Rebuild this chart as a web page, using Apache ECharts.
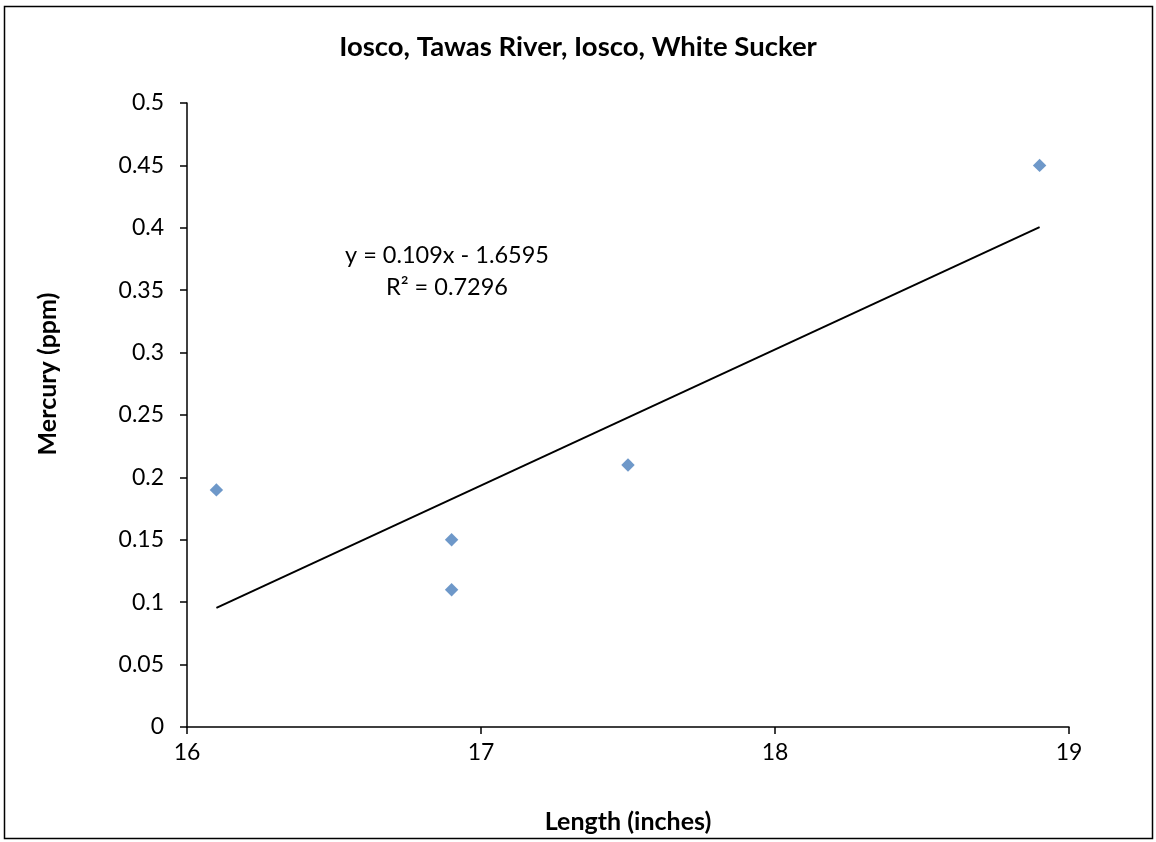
<!DOCTYPE html>
<html>
<head>
<meta charset="utf-8">
<script src="https://cdn.jsdelivr.net/npm/echarts@6/dist/echarts.min.js"></script>
<style>
  html, body { margin: 0; padding: 0; background: #fff; }
  #chart { width: 1156px; height: 842px; }
</style>
</head>
<body>
<div id="chart"></div>
<script>
// fish length (inches) vs mercury (ppm)
const lengths = [16.1, 16.9, 16.9, 17.5, 18.9]
const mercury = [0.19, 0.15, 0.11, 0.21, 0.45]
// linear trendline shown on the chart
const trendSlope = 0.109
const trendIntercept = -1.6595
const trendR2 = 0.7296
const xTicks = [16, 17, 18, 19]
const yTicks = [0, 0.05, 0.1, 0.15, 0.2, 0.25, 0.3, 0.35, 0.4, 0.45, 0.5]

const font = 'Lato, "Open Sans", sans-serif'
const points = lengths.map((x, i) => [x, mercury[i]])
const xMin = Math.min(...lengths)
const xMax = Math.max(...lengths)
const trend = [xMin, xMax].map(x => [x, trendSlope * x + trendIntercept])

let myChart = echarts.init(document.getElementById('chart'))
myChart.setOption({
  animation: false,
  title: {
    text: 'Iosco, Tawas River, Iosco, White Sucker',
    left: 'center',
    top: 28,
    textStyle: { fontFamily: font, fontSize: 27.5, fontWeight: 'bold', color: '#000' }
  },
  grid: {
    left: 187,
    right: 87,
    top: 103,
    bottom: 115
  },
  xAxis: {
    type: 'value',
    min: xTicks[0],
    max: xTicks[xTicks.length - 1],
    interval: 1,
    name: 'Length (inches)',
    nameLocation: 'middle',
    nameGap: 82,
    nameTextStyle: { fontFamily: font, fontSize: 25, fontWeight: 'bold', color: '#000' },
    axisLine: { show: true, lineStyle: { color: '#000', width: 1.5 } },
    axisTick: { show: true, inside: false, length: 7, lineStyle: { color: '#000', width: 1.5 } },
    axisLabel: { fontFamily: font, fontSize: 23, color: '#000', margin: 14 },
    splitLine: { show: false }
  },
  yAxis: {
    type: 'value',
    min: yTicks[0],
    max: yTicks[yTicks.length - 1],
    interval: 0.05,
    axisLine: { show: true, lineStyle: { color: '#000', width: 1.5 } },
    axisTick: { show: true, inside: false, length: 7, lineStyle: { color: '#000', width: 1.5 } },
    axisLabel: {
      fontFamily: font, fontSize: 23, color: '#000', margin: 23,
      formatter: v => String(+v.toFixed(2))
    },
    splitLine: { show: false }
  },
  graphic: [
    {
      type: 'rect',
      shape: { x: 4.5, y: 6.5, width: 1148, height: 832 },
      style: { fill: 'none', stroke: '#000', lineWidth: 1.5 },
      silent: true
    },
    {
      type: 'text',
      x: 48,
      y: 374,
      rotation: Math.PI / 2,
      style: {
        text: 'Mercury (ppm)',
        font: 'bold 25px ' + font,
        fill: '#000',
        align: 'center',
        verticalAlign: 'middle'
      }
    },
    {
      type: 'text',
      x: 447,
      y: 255,
      style: {
        text: 'y = ' + trendSlope + 'x - ' + Math.abs(trendIntercept),
        font: '23.5px ' + font,
        fill: '#000',
        align: 'center',
        verticalAlign: 'middle'
      }
    },
    {
      type: 'text',
      x: 447,
      y: 287,
      style: {
        text: 'R² = ' + trendR2,
        font: '23.5px ' + font,
        fill: '#000',
        align: 'center',
        verticalAlign: 'middle'
      }
    }
  ],
  series: [
    {
      name: 'Trend',
      type: 'line',
      data: trend,
      showSymbol: false,
      lineStyle: { color: '#000', width: 2 },
      z: 2
    },
    {
      name: 'Mercury',
      type: 'scatter',
      data: points,
      symbol: 'rect',
      symbolSize: 9.5,
      symbolRotate: 45,
      itemStyle: { color: '#4a7ebb' },
      z: 3
    }
  ]
})
</script>
</body>
</html>
